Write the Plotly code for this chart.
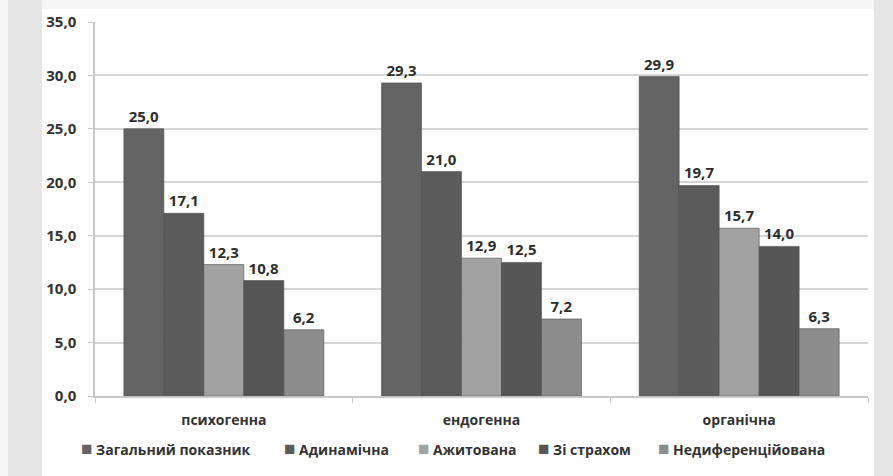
import plotly.graph_objects as go

# Categories (x axis) and series values
categories = ["психогенна", "ендогенна", "органічна"]
series_names = ["Загальний показник", "Адинамічна", "Ажитована", "Зі страхом", "Недиференційована"]
zahalnyi = [25.0, 29.3, 29.9]
adynamichna = [17.1, 21.0, 19.7]
azhytovana = [12.3, 12.9, 15.7]
zi_strakhom = [10.8, 12.5, 14.0]
nedyferentsiiovana = [6.2, 7.2, 6.3]
y_ticks = [0, 5, 10, 15, 20, 25, 30, 35]

series_values = [zahalnyi, adynamichna, azhytovana, zi_strakhom, nedyferentsiiovana]
colors = ["#646464", "#5b5b5b", "#a2a2a2", "#565656", "#8d8d8d"]
legend_left_px = [79, 282, 416, 536, 656]

W, H = 893, 476
L, R, T, B = 95, 25, 22, 80
pw, ph = W - L - R, H - T - B


def px_x(p):
    return (p - L) / pw


def px_y(p):
    return (H - B - p) / ph


FONT = "Open Sans"
TEXT_COL = "#333333"

fig = go.Figure()
for name, vals, col in zip(series_names, series_values, colors):
    fig.add_trace(go.Bar(
        name=name, x=categories, y=vals,
        marker=dict(color=col, line=dict(color="#4c4c4c", width=0.6)),
        text=vals, texttemplate="%{y:.1f}", textposition="outside",
        textfont=dict(family=FONT, size=15, color="#2e2e2e", weight="bold"),
        cliponaxis=False, showlegend=False,
    ))

# legend row drawn as coloured squares followed by the series names
annotations = []
for name, col, lx in zip(series_names, colors, legend_left_px):
    annotations.append(dict(
        xref="paper", yref="paper", x=px_x(lx), y=px_y(448),
        xanchor="left", yanchor="middle", showarrow=False,
        text=f"<span style='font-size:19px;color:{col}'>■</span> {name}",
        font=dict(family=FONT, size=14, color=TEXT_COL, weight="bold"),
    ))

shapes = [
    # white card behind the chart
    dict(type="rect", xref="paper", yref="paper", layer="below",
         x0=px_x(42), x1=px_x(874), y0=px_y(476), y1=px_y(0),
         fillcolor="white", line=dict(width=0)),
    dict(type="rect", xref="paper", yref="paper", layer="below",
         x0=px_x(0), x1=px_x(8), y0=px_y(476), y1=px_y(0),
         fillcolor="#f7f7f7", line=dict(width=0)),
    dict(type="rect", xref="paper", yref="paper", layer="below",
         x0=px_x(42), x1=px_x(874), y0=px_y(9), y1=px_y(0),
         fillcolor="#f6f6f6", line=dict(width=0)),
]

fig.update_layout(
    width=W, height=H,
    margin=dict(l=L, r=R, t=T, b=B),
    paper_bgcolor="#e6e6e6",
    plot_bgcolor="white",
    separators=", ",
    barmode="group",
    bargap=0.224,
    bargroupgap=0,
    shapes=shapes,
    annotations=annotations,
    showlegend=False,
    font=dict(family=FONT, size=13, color=TEXT_COL),
    xaxis=dict(
        showgrid=False, showline=True, linecolor="#c8c8c8", linewidth=1.5,
        ticks="outside", tickson="boundaries", ticklen=5, tickcolor="#c8c8c8",
        ticklabelstandoff=10,
        tickfont=dict(family=FONT, size=14, color=TEXT_COL, weight="bold"),
    ),
    yaxis=dict(
        range=[0, 35], tickvals=y_ticks, tickformat=".1f",
        showgrid=True, gridcolor="#d6d6d6", gridwidth=2,
        showline=True, linecolor="#c8c8c8", linewidth=1.5,
        ticks="outside", ticklen=5, tickcolor="#c8c8c8",
        ticklabelstandoff=9,
        tickfont=dict(family=FONT, size=15, color=TEXT_COL, weight="bold"),
        zeroline=False,
    ),
)

fig.write_html("out.html")
